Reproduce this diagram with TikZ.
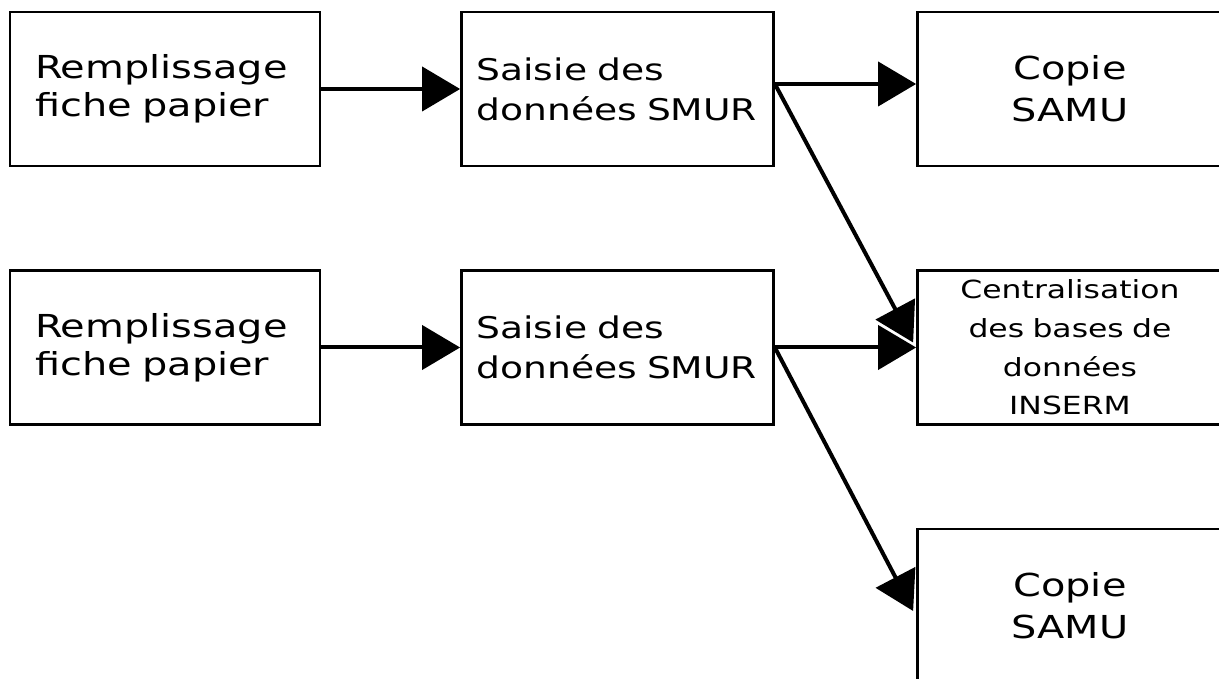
\documentclass[tikz,border=0pt]{standalone}
\usepackage{fontspec}
\setmainfont{DejaVu Sans}[FakeStretch=1.26]
\usetikzlibrary{arrows.meta,positioning}

\tikzset{
  box/.style={draw, fill=white, line width=0.055cm, minimum height=3.08cm, inner ysep=0pt},
  fiche/.style={box, text width=5.2cm, inner xsep=0.5cm, align=left, font=\fontsize{18}{21.5}\selectfont},
  saisie/.style={box, text width=5.64cm, inner xsep=0.3cm, align=left, font=\fontsize{17}{22.7}\selectfont},
  dest/.style={box, text width=5.5cm, inner xsep=0.3cm, align=center, font=\fontsize{18}{24}\selectfont},
  flow/.style={->, line width=0.08cm}
}

\begin{document}
\begin{tikzpicture}[on grid, node distance=5.17cm and 9.05cm, >={Triangle[length=0.76cm,width=0.88cm]}]
\useasboundingbox (0,0) rectangle (24.38,-13.58);
\clip (0,0) rectangle (24.38,-13.58);
\node[fiche] (fiche1) at (3.3,-1.78) {Remplissage\\fiche papier};
\node[saisie] (saisie1) [right=of fiche1] {Saisie des\\données SMUR};
\node[dest] (samu1) [right=of saisie1] {Copie\\SAMU};
\node[fiche] (fiche2) [below=of fiche1] {Remplissage\\fiche papier};
\node[saisie] (saisie2) [below=of saisie1] {Saisie des\\données SMUR};
\node[dest, font=\fontsize{14.2}{22}\selectfont] (inserm) [below=of samu1] {Centralisation\\des bases de\\données\\INSERM};
\node[dest] (samu2) [below=of inserm] {Copie\\SAMU};
% first chain
\draw[flow] (fiche1) -- (saisie1);
\draw[flow] ([yshift=0.1cm]saisie1.east) -- ([yshift=0.1cm]samu1.west);
\draw[flow] ([yshift=0.1cm]saisie1.east) -- ([shift={(-0.06cm,0.1cm)}]inserm.west);
% second chain
\draw[flow] (fiche2) -- (saisie2);
\draw[flow] (saisie2.east) -- (inserm.west);
\draw[flow] (saisie2.east) -- ([shift={(-0.06cm,-0.1cm)}]samu2.west);
\end{tikzpicture}
\end{document}
